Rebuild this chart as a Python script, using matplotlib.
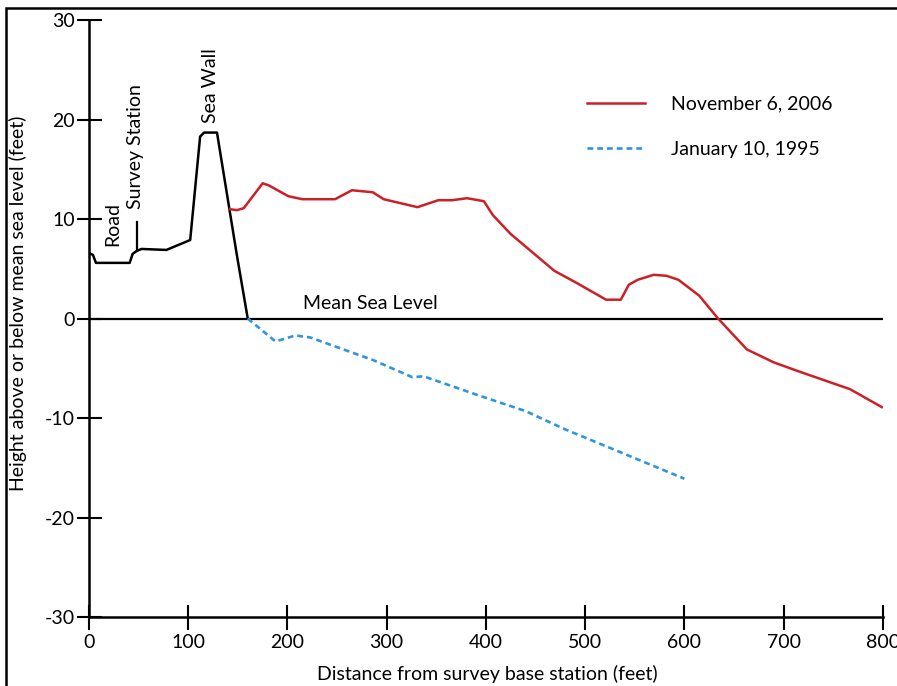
import numpy as np
import matplotlib
matplotlib.use("Agg")
import matplotlib.pyplot as plt
from matplotlib.patches import Rectangle

plt.rcParams['font.family'] = ['Lato', 'DejaVu Sans']

# beach profile (land / sea wall), black
land_x = [0, 4, 7, 41, 44, 48, 53, 78, 102, 112, 116, 129, 149, 160]
land_y = [6.6, 6.4, 5.6, 5.6, 6.5, 6.8, 7.0, 6.9, 7.9, 18.3, 18.7, 18.7, 6.4, 0.0]

# survey station marker
pole_x = 48
pole_y = [6.8, 9.7]

# November 6, 2006 profile
nov_x = [142, 149, 156, 175, 181, 201, 215, 248, 265, 286, 297, 331, 352, 366, 381,
         398, 407, 425, 469, 493, 521, 536, 544, 553, 569, 582, 594, 615, 634, 663,
         690, 715, 767, 799]
nov_y = [11.0, 10.9, 11.1, 13.6, 13.4, 12.3, 12.0, 12.0, 12.9, 12.7, 12.0, 11.2, 11.9,
         11.9, 12.1, 11.8, 10.4, 8.5, 4.8, 3.5, 1.9, 1.9, 3.4, 3.9, 4.4, 4.3, 3.9, 2.3,
         0.0, -3.1, -4.4, -5.3, -7.1, -8.9]

# January 10, 1995 profile
jan_x = [160, 188, 208, 223, 287, 326, 337, 392, 440, 479, 600]
jan_y = [0.0, -2.3, -1.7, -1.9, -4.2, -5.9, -5.8, -7.7, -9.3, -11.1, -16.1]

xticks = [0, 100, 200, 300, 400, 500, 600, 700, 800]
yticks = [-30, -20, -10, 0, 10, 20, 30]
ytick_labels = ["-30", "-20", "-10", "0", "10", "20", "30"]

red = "#cc1f26"
blue = "#2f95dc"
fs = 14

fig = plt.figure(figsize=(8.97, 6.86), dpi=100)
ax = fig.add_axes([0.0992, 0.1006, 0.885, 0.870])

ax.axhline(0, color="black", lw=1.6, zorder=2)
ax.plot(land_x, land_y, color="black", lw=1.8, zorder=3)
ax.plot([pole_x, pole_x], pole_y, color="black", lw=1.6, zorder=3)
ax.plot(nov_x, nov_y, color=red, lw=1.8, label="November 6, 2006", zorder=4)
ax.plot(jan_x, jan_y, color=blue, lw=1.9, dashes=(2.2, 1.5),
        label="January 10, 1995", zorder=4)

ax.set_xlim(0, 800)
ax.set_ylim(-30, 30)
ax.set_xticks(xticks)
ax.set_yticks(yticks)
ax.set_yticklabels(ytick_labels)
ax.tick_params(direction="inout", length=18, width=1.5, labelsize=fs)
ax.tick_params(axis="y", pad=1)
ax.tick_params(axis="x", pad=3)

for s in ["top", "right"]:
    ax.spines[s].set_visible(False)
for s in ["left", "bottom"]:
    ax.spines[s].set_linewidth(1.8)

ax.set_xlabel("Distance from survey base station (feet)", fontsize=fs)
ax.set_ylabel("Height above or below mean sea level (feet)", fontsize=fs)
ax.xaxis.set_label_coords(0.502, -0.080)
ax.yaxis.set_label_coords(-0.078, 0.526)

ax.text(24, 9.5, "Road", rotation=90, ha="center", va="center", fontsize=fs)
ax.text(46.5, 17.3, "Survey Station", rotation=90, ha="center", va="center", fontsize=fs)
ax.text(122, 23.4, "Sea Wall", rotation=90, ha="center", va="center", fontsize=fs)
ax.text(284, 1.5, "Mean Sea Level", ha="center", va="center", fontsize=fs)

leg = ax.legend(loc="upper left", bbox_to_anchor=(0.617, 0.887), frameon=False,
                fontsize=fs, handlelength=3.0, handletextpad=1.35, labelspacing=1.45,
                borderaxespad=0)

# outer frame (cropped at right and bottom)
fig.patches.append(Rectangle((6 / 897, -0.1), 1.2, (686 - 7.5) / 686 + 0.1,
                             transform=fig.transFigure, fill=False,
                             edgecolor="black", lw=1.8))

fig.savefig("out.png", dpi=100)
